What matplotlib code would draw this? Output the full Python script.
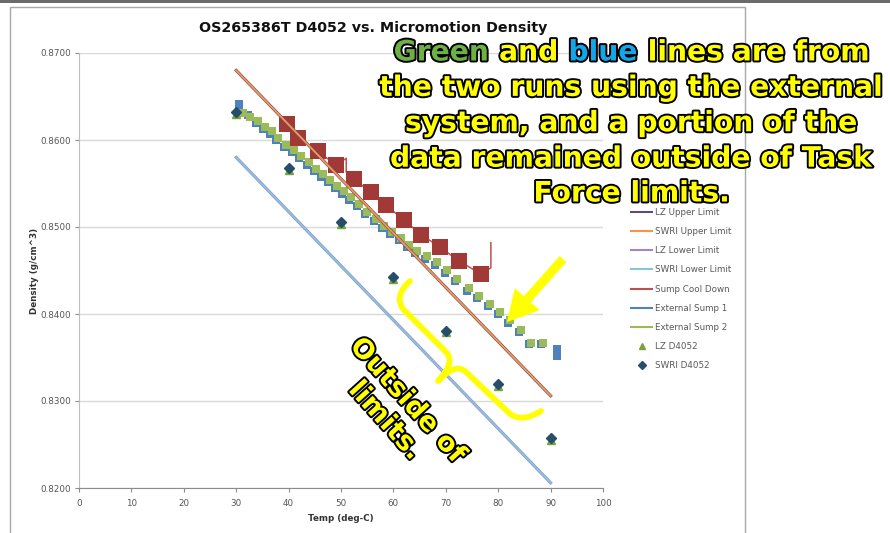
import matplotlib
matplotlib.use("Agg")
import matplotlib.pyplot as plt
from matplotlib.lines import Line2D
from matplotlib.patches import Rectangle, FancyArrowPatch, PathPatch
from matplotlib.path import Path
import matplotlib.patheffects as pe

# ---------------- data ----------------
title = "OS265386T D4052 vs. Micromotion Density"
x_label = "Temp (deg-C)"
y_label = "Density (g/cm^3)"
x_ticks = [0, 10, 20, 30, 40, 50, 60, 70, 80, 90, 100]
y_ticks = [0.82, 0.83, 0.84, 0.85, 0.86, 0.87]

limit_temp = [30, 90]
lz_upper = [0.8680, 0.8306]
swri_upper = [0.8680, 0.8306]
lz_lower = [0.8580, 0.8206]
swri_lower = [0.8580, 0.8206]

d4052_temp = [30, 40, 50, 60, 70, 80, 90]
lz_d4052 = [0.8630, 0.8566, 0.8504, 0.8440, 0.8379, 0.8317, 0.8255]
swri_d4052 = [0.8632, 0.8568, 0.8506, 0.8442, 0.8381, 0.8319, 0.8257]

cool_temp = [39.7, 41.8, 45.6, 49.1, 51.0, 51.0, 52.5, 55.7, 58.6, 62.0,
             65.3, 68.9, 72.5, 76.7, 78.6, 78.6]
cool_density = [0.8618, 0.8602, 0.8587, 0.8571, 0.8579, 0.8563, 0.8555, 0.8540,
                0.8525, 0.8508, 0.8491, 0.8477, 0.8461, 0.8446, 0.8453, 0.8482]
cool_marked = [0, 1, 2, 3, 6, 7, 8, 9, 10, 11, 12, 13]

sump1_temp = [30.5, 30.5, 32.3, 33.8, 35.1, 36.5, 37.6, 39.1, 40.7, 42.0, 43.5,
              44.9, 46.2, 47.5, 48.9, 50.2, 51.5, 53.1, 54.6, 56.3, 57.8, 59.4,
              61.1, 62.6, 64.1, 66.0, 67.9, 69.9, 71.8, 74.1, 76.0, 78.1, 80.0,
              81.9, 84.0, 85.9, 88.2, 91.2, 91.2]
sump1_density = [0.8641, 0.8634, 0.8629, 0.8620, 0.8613, 0.8607, 0.8600, 0.8592,
                 0.8586, 0.8579, 0.8571, 0.8564, 0.8557, 0.8552, 0.8545, 0.8538,
                 0.8531, 0.8524, 0.8515, 0.8507, 0.8499, 0.8492, 0.8485, 0.8477,
                 0.8470, 0.8463, 0.8456, 0.8447, 0.8438, 0.8427, 0.8418, 0.8409,
                 0.8400, 0.8390, 0.8379, 0.8365, 0.8365, 0.8360, 0.8352]

sump2_temp = [31.3, 32.6, 34.2, 35.5, 36.8, 38.0, 39.5, 41.0, 42.4, 43.9, 45.2,
              46.6, 47.9, 49.2, 50.6, 51.9, 53.4, 55.0, 56.7, 58.2, 59.7, 61.5,
              63.0, 64.5, 66.4, 68.3, 70.2, 72.1, 74.4, 76.3, 78.4, 80.3, 82.3,
              84.4, 86.3, 88.6]
sump2_density = [0.8631, 0.8626, 0.8622, 0.8615, 0.8610, 0.8602, 0.8594, 0.8588,
                 0.8582, 0.8575, 0.8567, 0.8561, 0.8554, 0.8547, 0.8541, 0.8534,
                 0.8526, 0.8517, 0.8509, 0.8501, 0.8494, 0.8487, 0.8479, 0.8472,
                 0.8467, 0.8460, 0.8451, 0.8440, 0.8430, 0.8421, 0.8412, 0.8402,
                 0.8393, 0.8382, 0.8367, 0.8367]

legend_labels = ["LZ Upper Limit", "SWRI Upper Limit", "LZ Lower Limit",
                 "SWRI Lower Limit", "Sump Cool Down", "External Sump 1",
                 "External Sump 2", "LZ D4052", "SWRI D4052"]

note_lines = ["the two runs using the external",
              "system, and a portion of the",
              "data remained outside of Task",
              "Force limits."]
note_first = [("Green ", "#6DB043"), ("and ", "#FFFF00"), ("blue ", "#12A5E8"),
              ("lines are from", "#FFFF00")]
outside_text = "Outside of\nlimits."

# ---------------- colours ----------------
C_LZU = "#604A7B"
C_SWU = "#F79646"
C_LZL = "#9D87C6"
C_SWL = "#86C5DC"
C_COOL = "#C0504D"
C_COOLM = "#A13A37"
C_S1 = "#4F81BD"
C_S2 = "#9BBB59"
C_TRI = "#77A23C"
C_DIA = "#254E6B"

W, H, DPI = 890, 533, 100
fig = plt.figure(figsize=(W / DPI, H / DPI), dpi=DPI)
fig.patch.set_facecolor("white")

# chart frame & top strip
fig.add_artist(Rectangle((0, 1 - 3 / H), 1, 3 / H, transform=fig.transFigure,
                         color="#6B6B6B", lw=0))
fig.add_artist(Rectangle((10 / W, -0.05), 735 / W, 1 - 7 / H + 0.05,
                         transform=fig.transFigure, fill=False,
                         edgecolor="#A8A8A8", lw=1.0))

ax = fig.add_axes([79 / W, 1 - 488 / H, 524 / W, 435 / H])
ax.set_xlim(0, 100)
ax.set_ylim(0.82, 0.87)
ax.set_xticks(x_ticks)
ax.set_yticks(y_ticks)
ax.set_yticklabels([f"{v:.4f}" for v in y_ticks])
ax.set_xticklabels([str(v) for v in x_ticks])
ax.tick_params(axis="both", labelsize=6.3, colors="#8C8C8C", labelcolor="#555555",
               length=3, width=0.8, direction="out")
ax.tick_params(axis="x", pad=5)
ax.tick_params(axis="y", pad=3)
for s in ["top", "right"]:
    ax.spines[s].set_visible(False)
ax.spines["left"].set_color("#BFBFBF")
ax.spines["bottom"].set_color("#8C8C8C")
ax.spines["left"].set_linewidth(0.8)
ax.spines["bottom"].set_linewidth(0.8)
ax.yaxis.grid(True, color="#D9D9D9", lw=1.0)
ax.set_axisbelow(True)

ax.set_xlabel(x_label, fontsize=6.3, fontweight="bold", color="#333333", labelpad=4)
ax.set_ylabel(y_label, fontsize=6.3, fontweight="bold", color="#333333", labelpad=1)

# series
ax.plot(sump1_temp, sump1_density, ls="none", marker="s", ms=5.5,
        mfc=C_S1, mec=C_S1, mew=0, zorder=3)
ax.plot(sump2_temp, sump2_density, ls="none", marker="s", ms=5.7,
        mfc=C_S2, mec=C_S2, mew=0, zorder=4)
ax.plot(cool_temp, cool_density, color=C_COOL, lw=1.1, marker="s", ms=11.8,
        mfc=C_COOLM, mec=C_COOLM, mew=0, markevery=cool_marked, zorder=5)
ax.plot(limit_temp, lz_upper, color=C_LZU, lw=2.2, zorder=6)
ax.plot(limit_temp, swri_upper, color=C_SWU, lw=1.4, zorder=6)
ax.plot(limit_temp, lz_lower, color=C_LZL, lw=2.2, zorder=6)
ax.plot(limit_temp, swri_lower, color=C_SWL, lw=1.4, zorder=6)
ax.plot(d4052_temp, lz_d4052, ls="none", marker="^", ms=6, color=C_TRI, zorder=7)
ax.plot(d4052_temp, swri_d4052, ls="none", marker="D", ms=4.6, color=C_DIA, zorder=8)

# legend
handles = [Line2D([], [], color=C_LZU, lw=1.5),
           Line2D([], [], color=C_SWU, lw=1.5),
           Line2D([], [], color=C_LZL, lw=1.5),
           Line2D([], [], color=C_SWL, lw=1.5),
           Line2D([], [], color=C_COOL, lw=1.5),
           Line2D([], [], color=C_S1, lw=1.5),
           Line2D([], [], color=C_S2, lw=1.5),
           Line2D([], [], ls="none", marker="^", ms=5, color=C_TRI),
           Line2D([], [], ls="none", marker="D", ms=3.8, color=C_DIA)]
leg = fig.legend(handles, legend_labels, loc="upper left",
                 bbox_to_anchor=(631 / W, 1 - 208 / H), frameon=False,
                 fontsize=6.3, labelspacing=1.16, handlelength=2.4,
                 handletextpad=0.3, borderaxespad=0, borderpad=0)
for t in leg.get_texts():
    t.set_color("#595959")

# title
fig.text(373 / W, 1 - 28 / H, title, ha="center", va="center", fontsize=10.3,
         fontweight="bold", color="#111111")

# ---------------- annotation text ----------------
outline = [pe.withStroke(linewidth=2.8, foreground="black")]
FS = 20.3
cx = 632
baselines = [60.5, 95.9, 131.3, 166.7, 201.5]
renderer = fig.canvas.get_renderer()


def text_width(s):
    t = fig.text(0, 0, s, fontsize=FS, fontweight="bold")
    w = t.get_window_extent(renderer).width
    t.remove()
    return w


full = "".join(p for p, _ in note_first)
bar_w = text_width("|")
total_w = text_width(full)
x0 = cx - total_w / 2
prefix = ""
for piece, col in note_first:
    off = text_width(prefix + "|") - bar_w if prefix else 0
    fig.text((x0 + off) / W, 1 - baselines[0] / H, piece, ha="left", va="baseline",
             fontsize=FS, fontweight="bold", color=col, path_effects=outline)
    prefix += piece

for line, b in zip(note_lines, baselines[1:]):
    fig.text(cx / W, 1 - b / H, line, ha="center", va="baseline", fontsize=FS,
             fontweight="bold", color="#FFFF00", path_effects=outline)

fig.text(396 / W, 1 - 411 / H, outside_text, ha="center", va="center",
         multialignment="center", rotation=-48, rotation_mode="anchor",
         fontsize=19.5, fontweight="bold", color="#FFFF00", path_effects=outline,
         linespacing=1.2)

# yellow arrow
arrow = FancyArrowPatch(posA=(563 / W, 1 - 259 / H), posB=(507 / W, 1 - 322 / H),
                        transform=fig.transFigure,
                        arrowstyle="simple,head_length=2.2,head_width=2.4,tail_width=0.65",
                        mutation_scale=10, color="#FFFF00", lw=0,
                        shrinkA=0, shrinkB=0)
fig.add_artist(arrow)

# yellow brace
pts = [(410, 281), (394, 295), (403, 309), (446, 352), (456, 362), (438, 381),
       (456, 362), (466, 372), (508, 412), (520, 424), (541, 411)]
codes = [Path.MOVETO, Path.CURVE3, Path.CURVE3, Path.LINETO, Path.CURVE3,
         Path.CURVE3, Path.CURVE3, Path.CURVE3, Path.LINETO, Path.CURVE3, Path.CURVE3]
verts = [(x / W, 1 - y / H) for x, y in pts]
brace = PathPatch(Path(verts, codes), transform=fig.transFigure, fill=False,
                  edgecolor="#FFFF00", lw=4.2, capstyle="round", joinstyle="round")
fig.add_artist(brace)

fig.savefig("out.png", dpi=DPI, facecolor="white")
